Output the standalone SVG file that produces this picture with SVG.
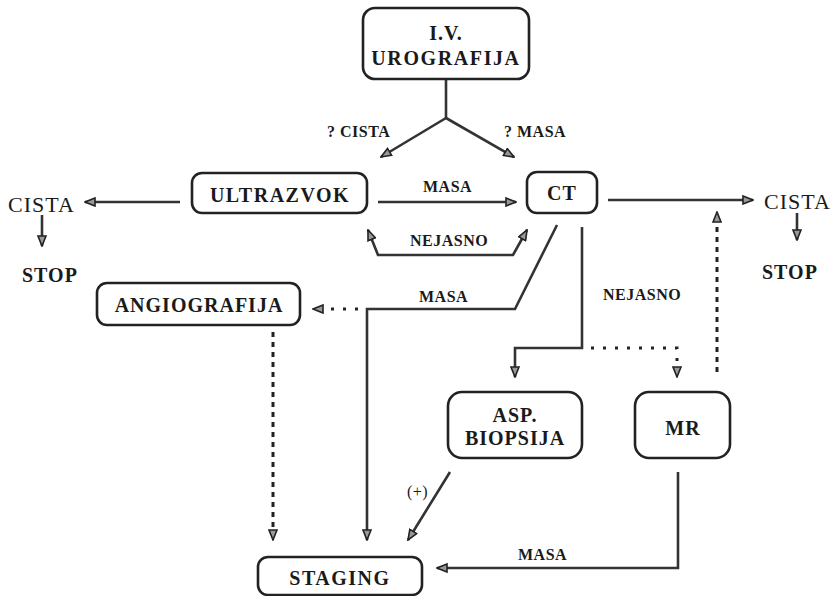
<svg xmlns="http://www.w3.org/2000/svg" width="833" height="596" viewBox="0 0 833 596" font-family="Liberation Serif, Times New Roman, serif">
<defs>
<marker id="ah" viewBox="0 0 12 10" refX="11" refY="5" markerWidth="12" markerHeight="10" markerUnits="userSpaceOnUse" orient="auto-start-reverse">
<path d="M1,1 L11,5 L1,9 Z" fill="#999" stroke="#222" stroke-width="1.6" stroke-linejoin="miter"/>
</marker>
<style>
.box{fill:#fff;stroke:#222;stroke-width:2.6}
text{fill:#1a1a1a}
.t{font-weight:bold;font-size:20px;letter-spacing:1px;text-anchor:middle}
.s{font-weight:bold;font-size:16px;letter-spacing:0.5px}
.big{font-size:22px;letter-spacing:1px}
.stop{font-weight:bold;font-size:20px;letter-spacing:1px}
.l{fill:none;stroke:#333;stroke-width:2.6}
.d{fill:none;stroke:#222;stroke-width:3;stroke-dasharray:5 5}
.dd{fill:none;stroke:#222;stroke-width:3;stroke-dasharray:3 9}
</style>
</defs>
<rect width="833" height="596" fill="#fff"/>

<g id="connectors">
<path class="l" d="M446,80 L446,118"/>
<path class="l" d="M446,118 L381,157" marker-end="url(#ah)"/>
<path class="l" d="M446,118 L514,157" marker-end="url(#ah)"/>
<path class="l" d="M180,202 L85,202" marker-end="url(#ah)"/>
<path class="l" d="M42,215 L42,246" marker-end="url(#ah)"/>
<path class="l" d="M378,202 L516,202" marker-end="url(#ah)"/>
<path class="l" d="M368,230 L378,255 L513,255 L527,230" marker-start="url(#ah)" marker-end="url(#ah)"/>
<path class="l" d="M608,200 L753,200" marker-end="url(#ah)"/>
<path class="l" d="M797,213 L797,240" marker-end="url(#ah)"/>
<path class="l" d="M557,225 L515,309 L367,309 L367,540" marker-end="url(#ah)"/>
<path class="dd" d="M358,309 L313,309" marker-end="url(#ah)"/>
<path class="d" d="M273,332 L273,540" marker-end="url(#ah)"/>
<path class="l" d="M582,227 L582,348 L515,348 L515,377" marker-end="url(#ah)"/>
<path class="dd" d="M591,348 L677,348 L677,377" marker-end="url(#ah)"/>
<path class="d" d="M717,372 L717,212" marker-end="url(#ah)"/>
<path class="l" d="M450,472 L408,540" marker-end="url(#ah)"/>
<path class="l" d="M678,472 L678,568 L437,568" marker-end="url(#ah)"/>
</g>

<g id="labels">
<text class="s" x="327" y="137">? CISTA</text>
<text class="s" x="504" y="137">? MASA</text>
<text class="s" x="423" y="192">MASA</text>
<text class="s" x="410" y="246">NEJASNO</text>
<text class="s" x="419" y="302">MASA</text>
<text class="s" x="603" y="300">NEJASNO</text>
<text class="s" x="407" y="497" font-weight="normal" style="font-weight:normal">(+)</text>
<text class="s" x="518" y="560">MASA</text>
<text class="big" x="8" y="212">CISTA</text>
<text class="stop" x="22" y="282">STOP</text>
<text class="big" x="764" y="209">CISTA</text>
<text class="stop" x="762" y="279">STOP</text>
</g>

<g id="n-urografija">
<rect class="box" x="363" y="8" width="166" height="71" rx="12"/>
<text class="t" x="446" y="40">I.V.</text>
<text class="t" x="446" y="65" style="letter-spacing:1.6px">UROGRAFIJA</text>
</g>
<g id="n-ultrazvok">
<rect class="box" x="192" y="173" width="175" height="40" rx="10"/>
<text class="t" x="280" y="202" style="letter-spacing:1.5px">ULTRAZVOK</text>
</g>
<g id="n-ct">
<rect class="box" x="527" y="172" width="70" height="41" rx="10"/>
<text class="t" x="562" y="200">CT</text>
</g>
<g id="n-angiografija">
<rect class="box" x="97" y="283" width="203" height="42" rx="10"/>
<text class="t" x="199" y="312">ANGIOGRAFIJA</text>
</g>
<g id="n-biopsija">
<rect class="box" x="448" y="392" width="134" height="66" rx="14"/>
<text class="t" x="515" y="422">ASP.</text>
<text class="t" x="515" y="445">BIOPSIJA</text>
</g>
<g id="n-mr">
<rect class="box" x="635" y="392" width="95" height="66" rx="14"/>
<text class="t" x="683" y="435">MR</text>
</g>
<g id="n-staging">
<rect class="box" x="258" y="557" width="164" height="38" rx="10"/>
<text class="t" x="340" y="585" style="letter-spacing:1.5px">STAGING</text>
</g>
</svg>
